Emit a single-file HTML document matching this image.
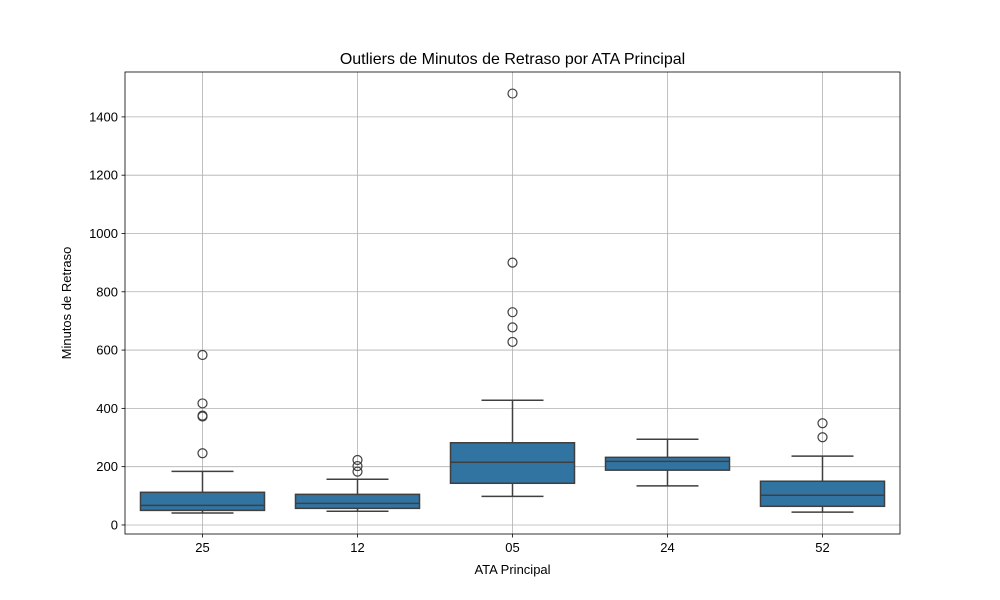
<!DOCTYPE html>
<html><head><meta charset="utf-8"><style>
body{margin:0;background:#fff;}
svg{display:block;font-family:"Liberation Sans",sans-serif;}
</style></head><body>
<svg id="chart" width="1000" height="600" viewBox="0 0 1000 600">
<rect width="1000" height="600" fill="#fff"/>
<g id="grid"></g><g id="marks"></g><g id="axes"></g>
<text x="512.5" y="64" text-anchor="middle" font-size="16">Outliers de Minutos de Retraso por ATA Principal</text>
<text x="512.5" y="574" text-anchor="middle" font-size="13">ATA Principal</text>
<text transform="translate(71,303) rotate(-90)" text-anchor="middle" font-size="13">Minutos de Retraso</text>
</svg>
<script>
const categories=["25","12","05","24","52"];
const q1=[50,57,143,188,64];
const medians=[67,74,215,218,102];
const q3=[112,105,282,232,150];
const whiskLow=[41,47,98,134,44];
const whiskHigh=[184,157,428,294,236];
const outliers=[[583,417,372,375,246],[223,202,183],[1480,900,730,678,628],[],[349,301]];
const yTicks=[0,200,400,600,800,1000,1200,1400];
const L=125,R=900,T=72,B=534,yMin=-31,yMax=1554;
const NS="http://www.w3.org/2000/svg";
const y=v=>B-(v-yMin)/(yMax-yMin)*(B-T);
const band=(R-L)/categories.length;
const x=i=>L+band*(i+0.5);
function mk(tag,attrs,parent){const e=document.createElementNS(NS,tag);for(const k in attrs)e.setAttribute(k,attrs[k]);document.getElementById(parent).appendChild(e);return e;}
yTicks.forEach(t=>{
 const g=mk('line',{x1:L,x2:R,y1:y(t),y2:y(t),stroke:'#b0b0b0','stroke-width':0.8},'grid');
 
 
 const tk=mk('line',{x1:L-3.5,x2:L,y1:y(t),y2:y(t),stroke:'#000','stroke-width':0.8},'axes');
 
 
 const lb=mk('text',{x:L-7,y:y(t)+4.5,'text-anchor':'end','font-size':13},'axes');
 lb.textContent=t;
 
 
});
categories.forEach((c,i)=>{
 const cx=x(i);
 const g=mk('line',{x1:cx,x2:cx,y1:T,y2:B,stroke:'#b0b0b0','stroke-width':0.8},'grid');
 
 
 const tk=mk('line',{x1:cx,x2:cx,y1:B,y2:B+3.5,stroke:'#000','stroke-width':0.8},'axes');
 
 
 const lb=mk('text',{x:cx,y:B+18,'text-anchor':'middle','font-size':13},'axes');
 lb.textContent=c;
 
 
 const bw=band*0.8,cw=bw/2,col='#3f3f3f';
 const w1=mk('line',{x1:cx,x2:cx,y1:y(q3[i]),y2:y(whiskHigh[i]),stroke:col,'stroke-width':1.5},'marks');
 
 
 const w2=mk('line',{x1:cx,x2:cx,y1:y(q1[i]),y2:y(whiskLow[i]),stroke:col,'stroke-width':1.5},'marks');
 
 
 const c1=mk('line',{x1:cx-cw/2,x2:cx+cw/2,y1:y(whiskHigh[i]),y2:y(whiskHigh[i]),stroke:col,'stroke-width':1.5},'marks');
 
 
 const c2=mk('line',{x1:cx-cw/2,x2:cx+cw/2,y1:y(whiskLow[i]),y2:y(whiskLow[i]),stroke:col,'stroke-width':1.5},'marks');
 
 
 const bx=mk('rect',{x:cx-bw/2,y:y(q3[i]),width:bw,height:y(q1[i])-y(q3[i]),fill:'#3274a1',stroke:col,'stroke-width':1.5},'marks');
 
 
 const md=mk('line',{x1:cx-bw/2,x2:cx+bw/2,y1:y(medians[i]),y2:y(medians[i]),stroke:col,'stroke-width':1.5},'marks');
 
 
 outliers[i].forEach(v=>{
  const o=mk('circle',{cx:cx,cy:y(v),r:4.5,fill:'none',stroke:col,'stroke-width':1.2},'marks');
  
  
 });
});
const fr=mk('rect',{x:L,y:T,width:R-L,height:B-T,fill:'none',stroke:'#000','stroke-width':0.8},'axes');


</script>
</body></html>
